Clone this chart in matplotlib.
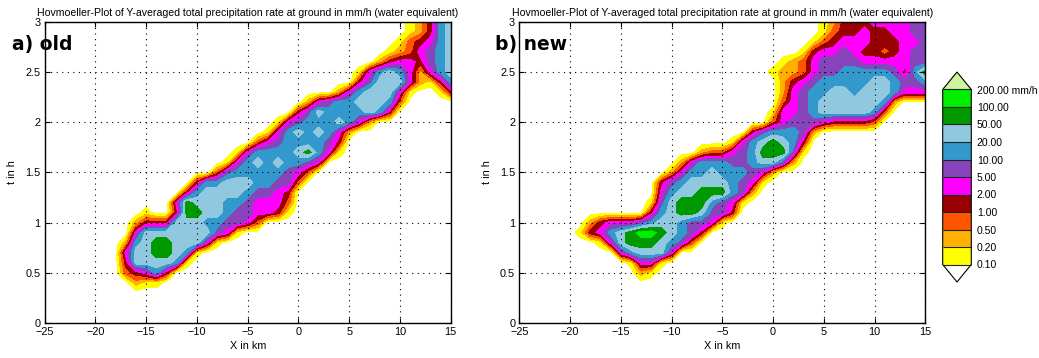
import numpy as np
import matplotlib
matplotlib.use("Agg")
import matplotlib.pyplot as plt
from matplotlib.colors import ListedColormap

plt.rcParams["font.family"] = ["Liberation Sans", "DejaVu Sans"]

# rate classes in mm/h and the colour of each class
rateLevels = [0.1, 0.2, 0.5, 1, 2, 5, 10, 20, 50, 100, 200]
classColours = ["#ffff00", "#ffb000", "#ff5500", "#990000", "#ff00ff",
                "#8844bb", "#3399cc", "#90c8e0", "#009900", "#00ee00"]
overColour = "#ccf5a0"

xKm = np.arange(-25, 16)
tHours = np.round(np.arange(0, 3.01, 0.1), 1)

# t -> (first x in km, class code per km); code 0 = below 0.1 mm/h,
# code k = rateLevels[k-1]..rateLevels[k], "a" = 100..200 mm/h
oldRows = {
    0.4: (-16, "211"),
    0.5: (-17, "34574"),
    0.6: (-17, "4888871"),
    0.7: (-17, "58899871"),
    0.8: (-17, "2789988851"),
    0.9: (-16, "58888888651"),
    1.0: (-16, "2444888776653"),
    1.1: (-15, "100499887665541"),
    1.2: (-12, "598887765553"),
    1.3: (-11, "47888876654"),
    1.4: (-10, "47788877663"),
    1.5: (-8, "3677777653"),
    1.6: (-7, "1578787765"),
    1.7: (-6, "15777789751"),
    1.8: (-4, "356777764"),
    1.9: (-3, "157878752"),
    2.0: (-2, "1567778752"),
    2.1: (0, "4687777874"),
    2.2: (1, "2567788873"),
    2.3: (4, "257888510014"),
    2.4: (6, "4688852147"),
    2.5: (6, "1578752578"),
    2.6: (8, "24554678"),
    2.7: (9, "1235678"),
    2.8: (10, "134578"),
    2.9: (11, "12478"),
    3.0: (11, "12478"),
}

newRows = {
    0.5: (-13, "21"),
    0.6: (-14, "1551"),
    0.7: (-15, "578885"),
    0.8: (-17, "1589998763"),
    0.9: (-19, "145789aa98764"),
    1.0: (-18, "24555678876651"),
    1.1: (-12, "478998664"),
    1.2: (-12, "1689997651"),
    1.3: (-11, "5788999762"),
    1.4: (-11, "46788887651"),
    1.5: (-10, "25778777652"),
    1.6: (-9, "257776678862"),
    1.7: (-7, "23356799961"),
    1.8: (-4, "15789874"),
    1.9: (-2, "4677762"),
    2.0: (0, "35666544443"),
    2.1: (0, "155678888873"),
    2.2: (0, "0356788888872"),
    2.3: (1, "256778878887555"),
    2.4: (1, "245677777887667"),
    2.5: (0, "1223566777776479"),
    2.6: (1, "123566665555566"),
    2.7: (3, "1455654434566"),
    2.8: (4, "134555444556"),
    2.9: (5, "13445445566"),
    3.0: (5, "12444555566"),
}

panelNames = ["a) old", "b) new"]
titleText = "Hovmoeller-Plot of Y-averaged total precipitation rate at ground in mm/h (water equivalent)"


def buildField(rows):
    field = np.zeros((len(tHours), len(xKm)))
    for t, (x0, codes) in rows.items():
        i = int(round(t * 10))
        j0 = x0 - xKm[0]
        for k, ch in enumerate(codes):
            field[i, j0 + k] = int(ch, 16)
    return field


W, H = 1039, 358
fig = plt.figure(figsize=(W / 100, H / 100), dpi=100)

cmap = ListedColormap(classColours)
cmap.set_under("white")
cmap.set_over(overColour)
bounds = np.arange(0.5, 11.0, 1.0)

axLefts = [44.7, 519.3]
axW, axTop, axBot = 406.0, 21.7, 323.0
labelX = [12, 495]

cs = None
titles = []
for n, rows in enumerate([oldRows, newRows]):
    ax = fig.add_axes([axLefts[n] / W, 1 - axBot / H, axW / W, (axBot - axTop) / H])
    field = buildField(rows)
    cs = ax.contourf(xKm, tHours, field, levels=bounds, cmap=cmap, extend="both")
    ax.set_xlim(-25, 15)
    ax.set_ylim(0, 3)
    ax.set_xticks(range(-25, 16, 5))
    ax.set_yticks([0, 0.5, 1, 1.5, 2, 2.5, 3])
    ax.set_yticklabels(["0", "0.5", "1", "1.5", "2", "2.5", "3"])
    ax.tick_params(direction="in", length=3.5, width=0.8, labelsize=7.8,
                   top=True, right=True, pad=3)
    ax.set_axisbelow(False)
    ax.grid(True, color="black", linewidth=0.8, linestyle=(0, (1, 4)))
    ax.set_xlabel("X in km", fontsize=7.8, labelpad=3)
    ax.set_ylabel("t in h", fontsize=7.8, labelpad=6)
    titles.append(ax.set_title(titleText, fontsize=7.5, pad=4))
    for s in ax.spines.values():
        s.set_linewidth(1.0)
    fig.text(labelX[n] / W, 1 - 50 / H, panelNames[n], fontsize=13.5,
             fontweight="bold", ha="left", va="baseline", family="DejaVu Sans")

# fit the title size to the width it has in the picture (about 421 px)
fig.canvas.draw()
r = fig.canvas.get_renderer()
w = titles[0].get_window_extent(r).width
for tt in titles:
    tt.set_fontsize(7.5 * 421.0 / w)

cax = fig.add_axes([942.7 / W, 1 - 282 / H, 28.6 / W, 210 / H])
cb = fig.colorbar(cs, cax=cax, extendfrac=0.1, drawedges=True)
cb.set_ticks(bounds)
labels = ["%.2f" % v for v in rateLevels]
labels[-1] = labels[-1] + " mm/h"
cb.set_ticklabels(labels)
cb.ax.tick_params(length=0, labelsize=7.5, pad=4)
cb.outline.set_linewidth(0.8)
cb.dividers.set_color("#222222")
cb.dividers.set_linewidth(0.8)

fig.savefig("out.png", dpi=100)
